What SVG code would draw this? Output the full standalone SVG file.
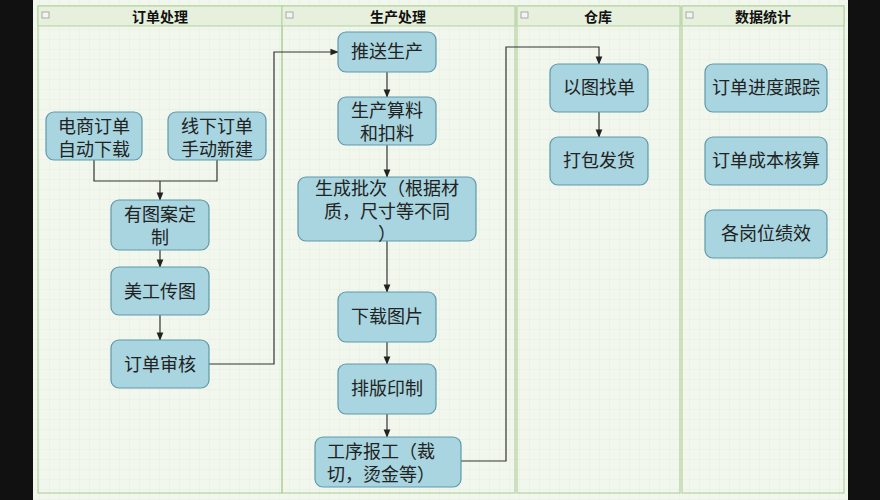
<svg xmlns="http://www.w3.org/2000/svg" width="880" height="500" viewBox="0 0 880 500">
<style>
.lane{fill:none;stroke:#b5d1a0;stroke-width:1.2}
.hdr{fill:#e6f0dc;stroke:#b5d1a0;stroke-width:1}
.ht{font-family:"Noto Sans CJK SC",sans-serif;font-size:14px;font-weight:bold;fill:#111;text-anchor:middle}
.n rect{fill:#a8d5df;stroke:#5f9aab;stroke-width:1.2}
.n text{font-family:"Noto Sans CJK SC",sans-serif;font-size:18px;fill:#222;text-anchor:middle}
.c{fill:none;stroke:#333;stroke-width:1.2}
.mini{fill:#f4f4f4;stroke:#999;stroke-width:0.8}
</style>
<defs>
<pattern id="g" width="10" height="10" patternUnits="userSpaceOnUse"><path d="M10 0V10H0" fill="none" stroke="#dde8d6" stroke-width="0.6"/></pattern>
<marker id="a" viewBox="0 0 10 10" refX="9" refY="5" markerWidth="7" markerHeight="7" orient="auto"><path d="M0 1L10 5L0 9z" fill="#222"/></marker>
</defs>
<rect width="880" height="500" fill="#111"/>
<rect x="33" y="0" width="815" height="500" fill="#f2f7ee"/>
<rect x="33" y="0" width="815" height="500" fill="url(#g)"/>
<g id="lanes">
<rect class="lane" x="38" y="6" width="244" height="487"/>
<rect class="lane" x="282" y="6" width="233" height="487"/>
<rect class="lane" x="517" y="6" width="163" height="487"/>
<rect class="lane" x="682" y="6" width="162" height="487"/>
<rect class="hdr" x="38" y="6" width="244" height="20"/>
<rect class="hdr" x="282" y="6" width="233" height="20"/>
<rect class="hdr" x="517" y="6" width="163" height="20"/>
<rect class="hdr" x="682" y="6" width="162" height="20"/>
<rect class="mini" x="42" y="12" width="7" height="6"/><rect class="mini" x="286" y="12" width="7" height="6"/><rect class="mini" x="521" y="12" width="7" height="6"/><rect class="mini" x="686" y="12" width="7" height="6"/>
<text class="ht" x="160" y="22">订单处理</text>
<text class="ht" x="398" y="22">生产处理</text>
<text class="ht" x="598" y="22">仓库</text>
<text class="ht" x="763" y="22">数据统计</text>
</g>
<g id="connectors">
<path class="c" d="M94 160V181H217V160"/>
<path class="c" d="M160 181V200" marker-end="url(#a)"/>
<path class="c" d="M160 250V267" marker-end="url(#a)"/>
<path class="c" d="M160 315V340" marker-end="url(#a)"/>
<path class="c" d="M209 364H274V52H338" marker-end="url(#a)"/>
<path class="c" d="M387 72V97" marker-end="url(#a)"/>
<path class="c" d="M387 145V177" marker-end="url(#a)"/>
<path class="c" d="M387 241V292" marker-end="url(#a)"/>
<path class="c" d="M387 342V364" marker-end="url(#a)"/>
<path class="c" d="M387 414V437" marker-end="url(#a)"/>
<path class="c" d="M461 461H506V47H599V64" marker-end="url(#a)"/>
<path class="c" d="M599 112V137" marker-end="url(#a)"/>
</g>
<g id="n1" class="n"><rect x="46" y="112" width="96" height="48" rx="8"/><text x="94" y="133">电商订单</text><text x="94" y="156">自动下载</text></g>
<g id="n2" class="n"><rect x="168" y="112" width="98" height="48" rx="8"/><text x="217" y="133">线下订单</text><text x="217" y="156">手动新建</text></g>
<g id="n3" class="n"><rect x="111" y="200" width="98" height="50" rx="8"/><text x="160" y="221">有图案定</text><text x="160" y="244">制</text></g>
<g id="n4" class="n"><rect x="111" y="267" width="98" height="48" rx="8"/><text x="160" y="298">美工传图</text></g>
<g id="n5" class="n"><rect x="111" y="340" width="98" height="48" rx="8"/><text x="160" y="371">订单审核</text></g>
<g id="n6" class="n"><rect x="338" y="32" width="98" height="40" rx="8"/><text x="387" y="58">推送生产</text></g>
<g id="n7" class="n"><rect x="338" y="97" width="98" height="48" rx="8"/><text x="387" y="117">生产算料</text><text x="387" y="140">和扣料</text></g>
<g id="n8" class="n"><rect x="298" y="177" width="178" height="64" rx="8"/><text x="387" y="195">生成批次（根据材</text><text x="387" y="218">质，尺寸等不同</text><text x="387" y="240">）</text></g>
<g id="n9" class="n"><rect x="338" y="292" width="98" height="50" rx="8"/><text x="387" y="323">下载图片</text></g>
<g id="n10" class="n"><rect x="338" y="364" width="98" height="50" rx="8"/><text x="387" y="395">排版印制</text></g>
<g id="n11" class="n"><rect x="315" y="437" width="146" height="50" rx="8"/><text x="381" y="458">工序报工（裁</text><text x="381" y="481">切，烫金等）</text></g>
<g id="n12" class="n"><rect x="550" y="64" width="98" height="48" rx="8"/><text x="599" y="94">以图找单</text></g>
<g id="n13" class="n"><rect x="550" y="137" width="98" height="48" rx="8"/><text x="599" y="167">打包发货</text></g>
<g id="n14" class="n"><rect x="705" y="64" width="122" height="48" rx="8"/><text x="766" y="94">订单进度跟踪</text></g>
<g id="n15" class="n"><rect x="705" y="137" width="122" height="48" rx="8"/><text x="766" y="167">订单成本核算</text></g>
<g id="n16" class="n"><rect x="705" y="210" width="122" height="48" rx="8"/><text x="766" y="240">各岗位绩效</text></g>
</svg>
